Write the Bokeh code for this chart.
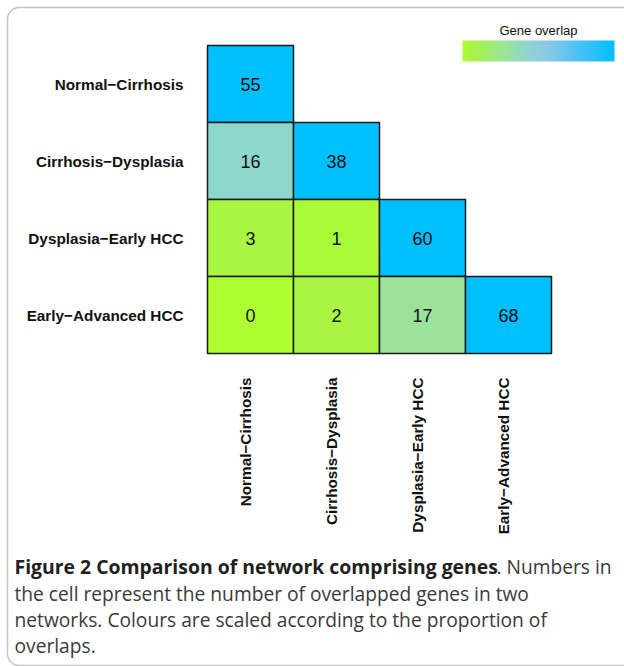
import math
import numpy as np
from bokeh.plotting import figure
from bokeh.models import (ColumnDataSource, Range1d, FixedTicker, LinearColorMapper,
                          ColorBar, Label, BoxAnnotation)
from bokeh.transform import transform
from bokeh.core.properties import value
from bokeh.embed import file_html
from bokeh.resources import INLINE

# ---------------- data ----------------
comparisons = ["Normal\u2212Cirrhosis", "Cirrhosis\u2212Dysplasia",
               "Dysplasia\u2212Early HCC", "Early\u2212Advanced HCC"]
row_normal_cirrhosis = [55]
row_cirrhosis_dysplasia = [16, 38]
row_dysplasia_early = [3, 1, 60]
row_early_advanced = [0, 2, 17, 68]
overlap_rows = [row_normal_cirrhosis, row_cirrhosis_dysplasia,
                row_dysplasia_early, row_early_advanced]
legend_title = "Gene overlap"
caption_bold = "Figure 2 Comparison of network comprising genes"
caption_line1_rest = ". Numbers in"
caption_lines = ["the cell represent the number of overlapped genes in two",
                 "networks. Colours are scaled according to the proportion of",
                 "overlaps."]

# ---------------- table ----------------
n = len(comparisons)
xs, ys, vals, props = [], [], [], []
for i, row in enumerate(overlap_rows):
    for j, v in enumerate(row):
        xs.append(j)
        ys.append(n - 1 - i)
        vals.append(str(v))
        props.append(v / min(overlap_rows[i][i], overlap_rows[j][j]))
src = ColumnDataSource(dict(x=xs, y=ys, label=vals, prop=props))

# colour ramp (style)
stops = [(0.0, "#adff2f"), (0.05, "#a9f542"), (0.283, "#9be39b"), (0.421, "#8fd6cc"),
         (0.55, "#8ec8e6"), (0.75, "#50c2f4"), (1.0, "#00bfff")]
def hex2rgb(h):
    return [int(h[k:k + 2], 16) for k in (1, 3, 5)]
ts = np.linspace(0, 1, 256)
st = [s[0] for s in stops]
cols = np.array([hex2rgb(s[1]) for s in stops], dtype=float)
palette = []
for t in ts:
    rgb = [int(round(np.interp(t, st, cols[:, k]))) for k in range(3)]
    palette.append("#%02x%02x%02x" % tuple(rgb))
mapper = LinearColorMapper(palette=palette, low=0, high=1)

# ---------------- figure (frame = whole canvas) ----------------
W, H = 624, 666
cell_w, cell_h = 86, 77
grid_left, grid_bottom = 207, 353          # picture px of the grid's lower-left
x0 = -0.5 - grid_left / cell_w
y0 = -0.5 - (H - grid_bottom) / cell_h
p = figure(width=W, height=H, output_backend="svg", toolbar_location=None,
           x_range=Range1d(x0, x0 + W / cell_w),
           y_range=Range1d(y0, y0 + H / cell_h),
           x_axis_type=None, y_axis_type=None,
           min_border_left=0, min_border_right=0, min_border_top=0,
           min_border_bottom=0)
p.outline_line_color = None
p.grid.visible = False
p.background_fill_color = "white"
p.border_fill_color = "white"

p.rect(x="x", y="y", width=1, height=1, source=src,
       fill_color=transform("prop", mapper), line_color="#1a1a1a", line_width=1.5)
p.text(x="x", y="y", text="label", source=src, text_align="center",
       text_baseline="middle", text_font=value("Liberation Sans"),
       text_font_size="18px", text_color="#111111")

# category labels (left and below the grid)
ylab = ColumnDataSource(dict(x=[-0.5 - 24 / cell_w] * n,
                             y=[n - 1 - i for i in range(n)], text=comparisons))
p.text(x="x", y="y", text="text", source=ylab, text_align="right",
       text_baseline="middle", text_font=value("Liberation Sans"),
       text_font_style="bold", text_font_size="15.3px", text_color="#111111")
xlab = ColumnDataSource(dict(x=list(range(n)), y=[-0.5 - 24 / cell_h] * n,
                             text=comparisons))
p.text(x="x", y="y", text="text", source=xlab, angle=math.pi / 2,
       text_align="right", text_baseline="middle", x_offset=-5,
       text_font=value("Liberation Sans"), text_font_style="bold",
       text_font_size="15.3px", text_color="#111111")

cb = ColorBar(color_mapper=mapper, orientation="horizontal", location=(462, H - 61),
              width=152, height=21, padding=0, ticker=FixedTicker(ticks=[]),
              major_label_text_font_size="0px", major_tick_line_color=None,
              minor_tick_line_color=None, bar_line_color=None,
              border_line_color=None, background_fill_alpha=0, label_standoff=0)
p.add_layout(cb, "center")

p.add_layout(Label(x=538, y=H - 30, x_units="screen", y_units="screen",
                   text=legend_title, text_align="center", text_baseline="middle",
                   text_font="Liberation Sans", text_font_size="13px",
                   text_color="#111111"))

# caption
cap_mid = [566, 593, 619, 645]
reg = dict(x_units="screen", y_units="screen", text_font="Open Sans",
           text_font_size="19.2px", text_color="#3a3a3a", text_baseline="middle")
p.add_layout(Label(x=14, y=H - cap_mid[0], x_units="screen", y_units="screen",
                   text=caption_bold, text_font="Open Sans", text_font_style="bold",
                   text_font_size="19.4px", text_color="#231f20",
                   text_baseline="middle"))
p.add_layout(Label(x=496, y=H - cap_mid[0], text=caption_line1_rest, **reg))
for k in range(3):
    p.add_layout(Label(x=14, y=H - cap_mid[k + 1], text=caption_lines[k], **reg))

p.add_layout(BoxAnnotation(left=7, right=800, top=H - 7, bottom=H - 665,
                           left_units="screen", right_units="screen",
                           top_units="screen", bottom_units="screen",
                           fill_alpha=0, line_color="#3a3a3a", line_width=1.5,
                           border_radius=12, level="overlay"))

open("out.html", "w").write(file_html(p, INLINE))
